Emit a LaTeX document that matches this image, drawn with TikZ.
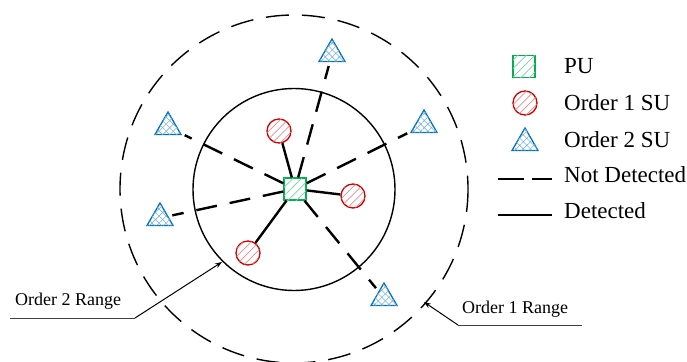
\documentclass[tikz,border=0pt]{standalone}
\usepackage{fontspec}
\setmainfont{Liberation Serif}
\usetikzlibrary{shapes.geometric,patterns.meta,arrows.meta}

\definecolor{pugreen}{HTML}{00B050}
\definecolor{sured}{HTML}{D00000}
\definecolor{sublue}{HTML}{0070C0}

\tikzset{
  pubox/.style={rectangle, draw=pugreen, line width=1.3pt, minimum size=22pt, inner sep=0pt,
    fill=white, postaction={pattern={Lines[angle=45,distance=6pt,line width=0.7pt]}, pattern color=pugreen!55}},
  suone/.style={circle, draw=sured, line width=1.3pt, minimum size=24pt, inner sep=0pt,
    fill=white, postaction={pattern={Lines[angle=45,distance=5.5pt,line width=0.7pt]}, pattern color=sured!45}},
  sutwo/.style={regular polygon, regular polygon sides=3, draw=sublue, line width=1.3pt,
    minimum size=30pt, inner sep=0pt, fill=white,
    postaction={pattern={Hatch[angle=45,distance=5pt,line width=0.6pt]}, pattern color=sublue!50}},
  solidlink/.style={line width=2.4pt},
  dashlink/.style={line width=2.4pt, dash pattern=on 21pt off 13pt, shorten >=4pt},
  rangecircle/.style={line width=1.4pt},
  labeltext/.style={anchor=base west, inner sep=0pt, font=\fontsize{18}{20}\selectfont},
  legendtext/.style={anchor=base west, inner sep=0pt, font=\fontsize{23}{26}\selectfont},
  underline/.style={draw=black!75, line width=1pt},
  pointer/.style={line width=1pt, -{Stealth[length=7pt,width=5pt]}}
}

\begin{document}
\begin{tikzpicture}[x=1pt,y=-1pt]
\useasboundingbox (0,0) rectangle (687,361);

% coverage ranges
\draw[rangecircle] (294,189.5) circle (101);
\draw[rangecircle, dash pattern=on 23pt off 13pt] (294,189) circle (174);

% users
\node[pubox] (pu) at (295,189) {};
\node[suone] (s1) at (279,131) {};
\node[suone] (s2) at (353,196) {};
\node[suone] (s3) at (248,253) {};
\node[sutwo] (t1) at (332,54) {};
\node[sutwo] (t2) at (168,127) {};
\node[sutwo] (t3) at (160,218) {};
\node[sutwo] (t4) at (424,125) {};
\node[sutwo] (t5) at (384,298) {};

% links
\draw[solidlink] (pu) -- (s1);
\draw[solidlink] (pu) -- (s2);
\draw[solidlink] (pu) -- (s3);
\draw[dashlink] (pu) -- (t1);
\draw[dashlink] (pu) -- (t2);
\draw[dashlink] (pu) -- (t3);
\draw[dashlink] (pu) -- (t4);
\draw[dashlink] (pu) -- (t5);

% range labels
\node[labeltext] (r2) at (15,305) {Order 2 Range};
\coordinate (r2a) at (10,318);
\coordinate (r2b) at (135,318);
\coordinate (r2tip) at (222,262);
\draw[underline] (r2a) -- (r2b);
\draw[pointer] (r2b) -- (r2tip);

\node[labeltext] (r1) at (462,313) {Order 1 Range};
\coordinate (r1a) at (458,325);
\coordinate (r1b) at (582,325);
\coordinate (r1tip) at (424,302);
\draw[underline] (r1a) -- (r1b);
\draw[pointer] (r1a) -- (r1tip);

% legend
\node[pubox, minimum size=22pt] (lpu) at (524,66.5) {};
\node[legendtext] (lpux) at (564,74) {PU};
\node[suone] (ls1) at (525,103) {};
\node[legendtext] (ls1x) at (564,110) {Order 1 SU};
\node[sutwo] (ls2) at (525,143) {};
\node[legendtext] (ls2x) at (564,147) {Order 2 SU};
\coordinate (lnda) at (498,179);
\coordinate (lndb) at (552,179);
\draw[line width=2.4pt, dash pattern=on 26pt off 8pt] (lnda) -- (lndb);
\node[legendtext] (lndx) at (564,182) {Not Detected};
\coordinate (lda) at (498,215);
\coordinate (ldb) at (552,215);
\draw[line width=2.4pt] (lda) -- (ldb);
\node[legendtext] (ldx) at (564,218) {Detected};
\end{tikzpicture}
\end{document}
